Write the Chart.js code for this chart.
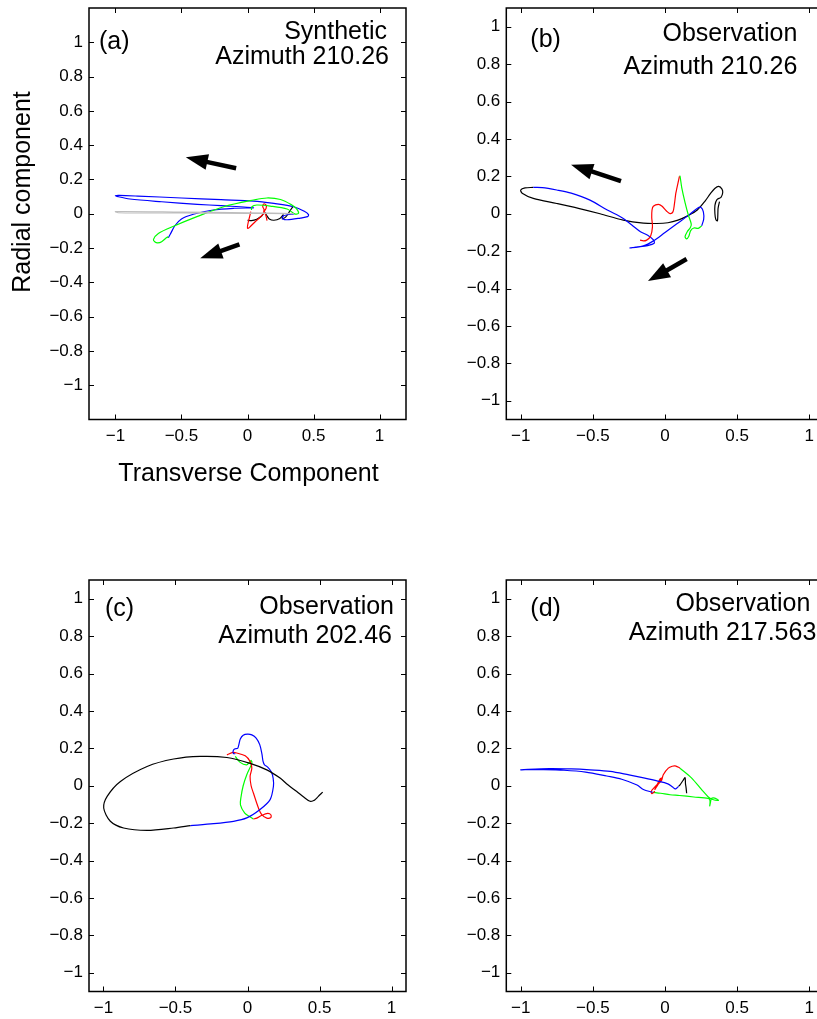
<!DOCTYPE html>
<html>
<head>
<meta charset="utf-8">
<script src="https://cdn.jsdelivr.net/npm/chart.js@4/dist/chart.umd.min.js"></script>
<style>
  html, body { margin:0; padding:0; background:#fff; width:817px; height:1019px; overflow:hidden; position:relative; }
  canvas { position:absolute; }
</style>
</head>
<body>
<canvas id="ca" width="410" height="500" style="left:0px;top:0px;width:410px;height:500px"></canvas>
<canvas id="cb" width="420" height="500" style="left:410px;top:0px;width:420px;height:500px"></canvas>
<canvas id="cc" width="410" height="460" style="left:0px;top:572px;width:410px;height:460px"></canvas>
<canvas id="cd" width="420" height="460" style="left:410px;top:572px;width:420px;height:460px"></canvas>
<script>
// ---------------- tick labels ----------------
const xTicks = [-1, -0.5, 0, 0.5, 1];
const yTicks = [-1, -0.8, -0.6, -0.4, -0.2, 0, 0.2, 0.4, 0.6, 0.8, 1];

// ---------------- panel (a) : Synthetic, Azimuth 210.26 ----------------
const aGrey  = [[0.35,0.001],[0.0,0.006],[-0.5,0.010],[-1.0,0.013],[-0.98,0.006],[-0.5,0.004],[0.0,0.002],[0.3,0.0]];
const aGreen = [[0.03,0.022],[0.033,0.041],[0.071,0.051],[0.172,0.045],[0.30,0.028],[0.36,-0.002],[0.387,0.004],[0.37,0.03],[0.336,0.051],[0.25,0.083],[0.147,0.092],[0.045,0.08],[-0.18,0.041],[-0.383,-0.017],[-0.56,-0.073],[-0.675,-0.115],[-0.712,-0.150],[-0.70,-0.165],[-0.68,-0.17],[-0.65,-0.163],[-0.606,-0.135],[-0.60,-0.14]];
const aBlue  = [[-0.60,-0.14],[-0.585,-0.12],[-0.55,-0.07],[-0.50,-0.03],[-0.41,-0.003],[-0.26,0.022],[-0.10,0.032],[0.045,0.035],[-0.20,0.047],[-0.38,0.055],[-0.65,0.07],[-0.89,0.086],[-0.98,0.1],[-1.0,0.106],[-0.97,0.107],[-0.83,0.103],[-0.5,0.092],[-0.2,0.082],[0.045,0.074],[0.20,0.06],[0.35,0.041],[0.43,0.015],[0.462,-0.005],[0.455,-0.017],[0.40,-0.025],[0.30,-0.035],[0.27,-0.03],[0.265,-0.016],[0.30,-0.006],[0.35,-0.002]];
const aRed   = [[0.025,0.012],[0.0,-0.085],[0.06,-0.045],[0.115,-0.005],[0.125,0.025],[0.115,0.042],[0.125,0.058],[0.142,0.05],[0.14,0.03],[0.128,0.015],[0.14,-0.012],[0.148,-0.04]];
const aBlack = [[0.0,-0.038],[0.03,-0.04],[0.07,-0.032],[0.105,-0.015],[0.13,0.008],[0.145,-0.01],[0.165,-0.03],[0.2,-0.038],[0.245,-0.028],[0.27,-0.006],[0.262,-0.03],[0.29,-0.018],[0.32,0.015],[0.345,0.043]];
const aArrows = [[-0.086,0.265,-0.467,0.329],[-0.061,-0.179,-0.358,-0.26]];

// ---------------- panel (b) : Observation, Azimuth 210.26 ----------------
const bRed   = [[-0.173,-0.141],[-0.15,-0.145],[-0.127,-0.141],[-0.1,-0.12],[-0.087,-0.07],[-0.092,-0.02],[-0.09,0.02],[-0.081,0.04],[-0.046,0.05],[-0.02,0.04],[0.01,0.015],[0.035,0.001],[0.055,0.01],[0.065,0.05],[0.075,0.11],[0.082,0.135],[0.1,0.2]];
const bGreen = [[0.1,0.2],[0.104,0.201],[0.116,0.14],[0.139,0.06],[0.162,-0.007],[0.182,-0.055],[0.175,-0.075],[0.155,-0.095],[0.139,-0.123],[0.15,-0.134],[0.165,-0.12],[0.178,-0.09],[0.2,-0.076],[0.23,-0.078],[0.254,-0.065]];
const bBlue  = [[0.254,-0.065],[0.268,-0.03],[0.266,0.01],[0.25,0.034],[0.225,0.03],[0.16,-0.01],[0.08,-0.055],[0.0,-0.1],[-0.08,-0.145],[-0.15,-0.172],[-0.243,-0.183],[-0.2,-0.178],[-0.12,-0.17],[-0.075,-0.158],[-0.08,-0.14],[-0.12,-0.115],[-0.17,-0.096],[-0.23,-0.06],[-0.289,-0.025],[-0.4,0.02],[-0.52,0.073],[-0.65,0.11],[-0.75,0.127],[-0.85,0.14],[-0.913,0.141]];
const bBlack = [[-0.913,0.141],[-0.97,0.138],[-1.0,0.127],[-0.99,0.11],[-0.913,0.082],[-0.75,0.055],[-0.6,0.029],[-0.45,0.0],[-0.289,-0.034],[-0.15,-0.05],[-0.058,-0.052],[0.02,-0.048],[0.09,-0.034],[0.16,-0.01],[0.224,0.02],[0.28,0.07],[0.316,0.109],[0.345,0.135],[0.372,0.146],[0.395,0.132],[0.4,0.112],[0.388,0.088],[0.36,0.076],[0.346,0.045],[0.346,0.0],[0.352,-0.03],[0.363,-0.038],[0.366,-0.01],[0.368,0.03],[0.378,0.065]];
const bArrows = [[-0.305,0.175,-0.651,0.262],[0.15,-0.242,-0.118,-0.36]];

// ---------------- panel (c) : Observation, Azimuth 202.46 ----------------
const cBlack = [[0.522,-0.034],[0.49,-0.058],[0.475,-0.07],[0.462,-0.078],[0.434,-0.083],[0.39,-0.06],[0.342,-0.031],[0.28,0.005],[0.226,0.041],[0.134,0.085],[0.018,0.12],[-0.143,0.151],[-0.328,0.157],[-0.513,0.143],[-0.697,0.103],[-0.882,0.023],[-0.974,-0.057],[-0.998,-0.119],[-0.952,-0.19],[-0.86,-0.226],[-0.697,-0.239],[-0.513,-0.226],[-0.397,-0.213]];
const cBlue  = [[-0.397,-0.213],[-0.236,-0.203],[-0.097,-0.19],[-0.005,-0.172],[0.087,-0.127],[0.157,-0.074],[0.18,-0.003],[0.178,0.04],[0.165,0.075],[0.14,0.1],[0.118,0.112],[0.108,0.13],[0.1,0.17],[0.085,0.22],[0.06,0.255],[0.03,0.272],[0.0,0.276],[-0.03,0.27],[-0.05,0.25],[-0.06,0.22],[-0.068,0.2],[-0.09,0.197],[-0.1,0.185],[-0.097,0.172],[-0.085,0.171]];
const cRed   = [[-0.143,0.165],[-0.1,0.178],[-0.074,0.175],[-0.016,0.16],[0.018,0.13],[0.03,0.094],[0.018,0.05],[0.025,0.0],[0.041,-0.039],[0.076,-0.119],[0.099,-0.155],[0.134,-0.173],[0.162,-0.17],[0.162,-0.155],[0.14,-0.148],[0.1,-0.158],[0.064,-0.173],[0.041,-0.178]];
const cGreen = [[0.041,-0.178],[0.015,-0.165],[-0.019,-0.146],[-0.049,-0.102],[-0.045,-0.06],[-0.03,0.0],[-0.005,0.059],[0.03,0.12],[0.025,0.135],[0.018,0.13],[-0.005,0.112],[-0.051,0.125],[-0.085,0.157]];

// ---------------- panel (d) : Observation, Azimuth 217.563 ----------------
const dBlue  = [[-0.085,-0.035],[-0.15,-0.02],[-0.194,0.004],[-0.3,0.035],[-0.404,0.052],[-0.55,0.073],[-0.7,0.083],[-0.85,0.086],[-0.97,0.086],[-1.0,0.085],[-0.95,0.088],[-0.8,0.092],[-0.65,0.09],[-0.52,0.085],[-0.38,0.077],[-0.25,0.058],[-0.148,0.042],[-0.05,0.025],[0.02,0.01],[0.05,-0.005],[0.07,-0.017],[0.082,-0.012],[0.094,-0.003]];
const dBlack = [[0.094,-0.003],[0.104,0.005],[0.125,0.028],[0.139,0.043],[0.142,0.01],[0.146,-0.01],[0.15,-0.04]];
const dRed   = [[-0.07,-0.03],[-0.092,-0.042],[-0.095,-0.03],[-0.081,-0.015],[-0.046,0.014],[-0.023,0.041],[-0.035,0.035],[-0.058,0.0],[-0.07,-0.02],[-0.05,0.005],[-0.023,0.03],[-0.012,0.059],[0.023,0.094],[0.05,0.104],[0.069,0.106],[0.09,0.1],[0.104,0.094]];
const dGreen = [[0.104,0.094],[0.185,0.041],[0.254,-0.021],[0.3,-0.06],[0.325,-0.072],[0.37,-0.078],[0.345,-0.066],[0.322,-0.068],[0.315,-0.09],[0.31,-0.108],[0.312,-0.08],[0.3,-0.068],[0.2,-0.06],[0.1,-0.052],[0.035,-0.048],[-0.03,-0.04],[-0.085,-0.035]];

const FONT = '"Liberation Sans", Arial, Helvetica, sans-serif';

function fmt(v) { return v < 0 ? '\u2212' + String(Math.abs(v)) : String(v); }
function pts(arr) { return arr.map(p => ({ x: p[0], y: p[1] })); }
function line(arr, color, width) {
  return { data: pts(arr), showLine: true, borderColor: color, borderWidth: width || 1.2,
           pointRadius: 0, pointHoverRadius: 0, fill: false, tension: 0.3 };
}

function drawArrow(ctx, x0, y0, x1, y1) {
  const ang = Math.atan2(y1 - y0, x1 - x0);
  const headLen = 22, halfW = 8;
  const bx = x1 - headLen * Math.cos(ang), by = y1 - headLen * Math.sin(ang);
  ctx.save();
  ctx.strokeStyle = '#000'; ctx.fillStyle = '#000';
  ctx.lineWidth = 4.5; ctx.lineCap = 'butt';
  ctx.beginPath(); ctx.moveTo(x0, y0); ctx.lineTo(bx + 2 * Math.cos(ang), by + 2 * Math.sin(ang)); ctx.stroke();
  ctx.beginPath();
  ctx.moveTo(x1, y1);
  ctx.lineTo(bx + halfW * Math.sin(ang), by - halfW * Math.cos(ang));
  ctx.lineTo(bx - halfW * Math.sin(ang), by + halfW * Math.cos(ang));
  ctx.closePath(); ctx.fill();
  ctx.restore();
}

function decor(cfg) {
  return {
    id: 'decor',
    afterDraw(chart) {
      const ctx = chart.ctx, a = chart.chartArea;
      const xs = chart.scales.x, ys = chart.scales.y;
      ctx.save();
      (cfg.arrows || []).forEach(r => {
        drawArrow(ctx, xs.getPixelForValue(r[0]), ys.getPixelForValue(r[1]),
                       xs.getPixelForValue(r[2]), ys.getPixelForValue(r[3]));
      });
      ctx.strokeStyle = '#000'; ctx.lineWidth = 1.5;
      ctx.strokeRect(a.left, a.top, a.right - a.left, a.bottom - a.top);
      ctx.lineWidth = 1;
      const tl = 5;
      ctx.beginPath();
      xTicks.forEach(v => {
        const p = Math.round(xs.getPixelForValue(v)) + 0.5;
        ctx.moveTo(p, a.bottom); ctx.lineTo(p, a.bottom - tl);
        ctx.moveTo(p, a.top); ctx.lineTo(p, a.top + tl);
      });
      yTicks.forEach(v => {
        const p = Math.round(ys.getPixelForValue(v)) + 0.5;
        ctx.moveTo(a.left, p); ctx.lineTo(a.left + tl, p);
        ctx.moveTo(a.right, p); ctx.lineTo(a.right - tl, p);
      });
      ctx.stroke();
      ctx.fillStyle = '#000';
      ctx.font = '25px ' + FONT;
      ctx.textBaseline = 'middle';
      ctx.textAlign = 'left';
      ctx.fillText(cfg.tag, a.left + cfg.tagPos[0], a.top + cfg.tagPos[1]);
      ctx.textAlign = 'right';
      ctx.fillText(cfg.title1, a.left + cfg.t1Pos[0], a.top + cfg.t1Pos[1]);
      ctx.fillText(cfg.title2, a.left + cfg.t2Pos[0], a.top + cfg.t2Pos[1]);
      if (cfg.axisTitles) {
        ctx.textAlign = 'center';
        ctx.fillText('Transverse Component', (a.left + a.right) / 2 + 1, a.bottom + 55);
        ctx.save();
        ctx.translate(a.left - 66, a.top + 184);
        ctx.rotate(-Math.PI / 2);
        ctx.fillText('Radial component', 0, 0);
        ctx.restore();
      }
      ctx.restore();
    }
  };
}

function makeChart(id, datasets, cfg) {
  const yw = cfg.yWidth;
  new Chart(document.getElementById(id), {
    type: 'scatter',
    data: { datasets: datasets },
    options: {
      responsive: false, animation: false, devicePixelRatio: 1,
      layout: { padding: { left: 0, top: 8, right: cfg.padRight, bottom: cfg.padBottom } },
      plugins: { legend: { display: false }, tooltip: { enabled: false }, title: { display: false } },
      scales: {
        x: {
          type: 'linear', min: -cfg.xr, max: cfg.xr,
          grid: { display: false, drawTicks: false }, border: { display: false },
          ticks: { font: { family: FONT, size: 17 }, color: '#000', padding: 7, autoSkip: false, maxRotation: 0, callback: fmt },
          afterBuildTicks: s => { s.ticks = xTicks.map(v => ({ value: v })); },
          afterFit: s => { s.height = 40; }
        },
        y: {
          type: 'linear', min: -cfg.yr, max: cfg.yr,
          grid: { display: false, drawTicks: false }, border: { display: false },
          ticks: { font: { family: FONT, size: 17, lineHeight: 0.2 }, color: '#000', padding: 6, autoSkip: false, callback: fmt },
          afterBuildTicks: s => { s.ticks = yTicks.map(v => ({ value: v })); },
          afterFit: s => { s.width = yw; }
        }
      }
    },
    plugins: [decor(cfg)]
  });
}

makeChart('ca', [line(aGrey, '#bdbdbd', 1.1), line(aGreen, '#00ff00'), line(aBlue, '#0000ff'), line(aRed, '#ff0000'), line(aBlack, '#000000')], {
  xr: 1.2, yr: 1.2, yWidth: 89, padRight: 4, padBottom: 40.5, arrows: aArrows, axisTitles: true,
  tag: '(a)', tagPos: [10, 34], title1: 'Synthetic', t1Pos: [298, 24], title2: 'Azimuth 210.26', t2Pos: [300, 49]
});
makeChart('cb', [line(bRed, '#ff0000'), line(bGreen, '#00ff00'), line(bBlue, '#0000ff'), line(bBlack, '#000000')], {
  xr: 1.1, yr: 1.1, yWidth: 96.3, padRight: 6.3, padBottom: 40.5, arrows: bArrows,
  tag: '(b)', tagPos: [24, 32], title1: 'Observation', t1Pos: [291, 26], title2: 'Azimuth 210.26', t2Pos: [291, 59]
});
makeChart('cc', [line(cBlack, '#000000'), line(cBlue, '#0000ff'), line(cRed, '#ff0000'), line(cGreen, '#00ff00')], {
  xr: 1.1, yr: 1.1, yWidth: 89, padRight: 4, padBottom: 0.5,
  tag: '(c)', tagPos: [16, 29], title1: 'Observation', t1Pos: [305, 27], title2: 'Azimuth 202.46', t2Pos: [303, 56]
});
makeChart('cd', [line(dBlue, '#0000ff'), line(dBlack, '#000000'), line(dRed, '#ff0000'), line(dGreen, '#00ff00')], {
  xr: 1.1, yr: 1.1, yWidth: 96.3, padRight: 6.3, padBottom: 0.5,
  tag: '(d)', tagPos: [24, 29], title1: 'Observation', t1Pos: [304, 24], title2: 'Azimuth 217.563', t2Pos: [310, 53]
});
</script>
</body>
</html>
